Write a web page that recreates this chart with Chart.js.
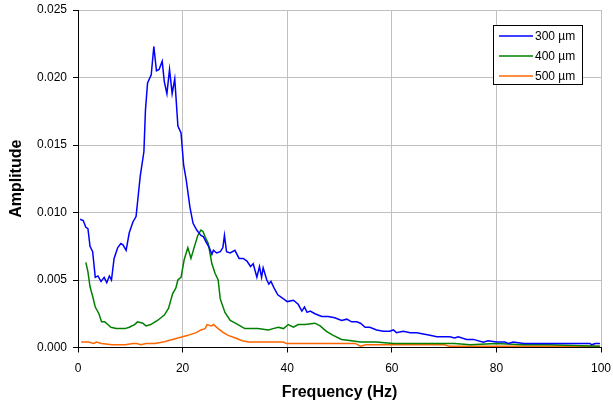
<!DOCTYPE html>
<html>
<head>
<meta charset="utf-8">
<script src="https://cdn.jsdelivr.net/npm/chart.js@4.4.0/dist/chart.umd.min.js"></script>
<style>
  html, body { margin: 0; padding: 0; background: #fff; }
  #wrap { width: 613px; height: 404px; }
</style>
</head>
<body>
<div id="wrap"><canvas id="spectrum" width="613" height="404"></canvas></div>
<script>
// amplitude spectra
const seriesLabels = ['300 µm', '400 µm', '500 µm']
const seriesColors = ['#0000FF', '#008000', '#FF6600']

const freq300 = [0.4, 1.0, 1.5, 1.9, 2.3, 2.8, 3.3, 3.8, 4.4, 5.0, 5.5, 6.0, 6.4, 6.9, 7.6, 8.2, 8.6, 9.2, 9.8, 10.5,
  11.1, 11.9, 12.6, 12.9, 13.3, 14.0, 14.5, 15.0, 15.5, 16.1, 16.5, 17.0, 17.5, 18.0, 18.5, 19.1, 19.7, 20.2, 20.7,
  21.4, 22.0, 22.7, 23.5, 24.0, 24.5, 25.1, 25.6, 25.9, 26.5, 27.2, 27.7, 28.0, 28.4, 29.1, 30.0, 30.8, 31.6, 32.3,
  33.0, 33.5, 34.2, 34.7, 35.1, 35.4, 36.1, 36.5, 36.9, 37.5, 38.2, 39.3, 40.0, 41.2, 42.1, 42.8, 43.3, 43.8, 44.4,
  45.3, 46.6, 47.8, 49.1, 50.4, 51.4, 52.3, 53.3, 54.0, 54.9, 55.8, 57.1, 58.4, 59.6, 60.3, 60.9, 62.2, 63.5, 64.8,
  66.0, 67.3, 68.6, 69.9, 71.1, 72.0, 72.7, 74.3, 75.6, 77.5, 78.4, 80.0, 81.6, 82.3, 83.2, 85.2, 88.3, 89.6, 91.2,
  94.7, 97.9, 98.2, 98.9, 99.8]
const amp300 = [0.0095, 0.0094, 0.0089, 0.0088, 0.0075, 0.0071, 0.0052, 0.0053, 0.0049, 0.0052, 0.0048, 0.0053, 0.0050,
  0.0066, 0.0074, 0.0077, 0.0076, 0.0072, 0.0085, 0.0093, 0.0097, 0.0127, 0.0145, 0.0176, 0.0196, 0.0202, 0.0223,
  0.0205, 0.0206, 0.0212, 0.0197, 0.0188, 0.0206, 0.0188, 0.0199, 0.0164, 0.0159, 0.0135, 0.0124, 0.0104, 0.0092,
  0.0087, 0.0083, 0.0082, 0.0078, 0.0074, 0.0069, 0.0072, 0.0070, 0.0071, 0.0074, 0.0083, 0.0071, 0.0070, 0.0072,
  0.0066, 0.0066, 0.0064, 0.0060, 0.0062, 0.0052, 0.0060, 0.0052, 0.0059, 0.0050, 0.0047, 0.0049, 0.0044, 0.0039,
  0.0036, 0.0034, 0.0035, 0.0032, 0.0027, 0.0030, 0.0026, 0.0027, 0.0025, 0.0023, 0.0023, 0.0022, 0.0020, 0.0021,
  0.0019, 0.0019, 0.0018, 0.0015, 0.0015, 0.0013, 0.0012, 0.0012, 0.0013, 0.0011, 0.0012, 0.0011, 0.0011, 0.0010,
  0.0009, 0.0008, 0.0008, 0.0008, 0.0007, 0.0008, 0.0006, 0.0006, 0.0004, 0.0005, 0.0004, 0.0004, 0.0003, 0.0004,
  0.0003, 0.0003, 0.0003, 0.0003, 0.0003, 0.0003, 0.0002, 0.0003, 0.0003]

const freq400 = [1.5, 1.9, 2.3, 2.8, 3.3, 4.0, 4.5, 5.1, 5.7, 6.3, 7.3, 8.2, 9.0, 9.8, 10.8, 11.4, 12.4, 13.0, 13.9,
  15.2, 16.5, 17.3, 18.1, 18.7, 19.1, 19.7, 20.3, 21.0, 21.6, 22.2, 22.9, 23.5, 23.9, 24.3, 24.9, 25.6, 26.2, 26.8,
  27.2, 28.1, 29.1, 30.1, 31.0, 31.9, 33.2, 34.4, 36.4, 37.3, 38.3, 39.3, 40.2, 41.2, 42.1, 43.4, 45.3, 46.3, 47.5,
  48.8, 50.4, 52.3, 54.0, 57.0, 60.3, 65.0, 70.0, 72.0, 75.0, 80.0, 85.0, 90.0, 99.8]
const amp400 = [0.0063, 0.0056, 0.0045, 0.0038, 0.0030, 0.0025, 0.0019, 0.0019, 0.0017, 0.0015, 0.0014, 0.0014, 0.0014,
  0.0015, 0.0017, 0.0019, 0.0018, 0.0016, 0.0017, 0.0020, 0.0024, 0.0029, 0.0040, 0.0044, 0.0050, 0.0052, 0.0065,
  0.0074, 0.0066, 0.0074, 0.0083, 0.0087, 0.0086, 0.0082, 0.0077, 0.0062, 0.0055, 0.0050, 0.0036, 0.0026, 0.0020,
  0.0018, 0.0016, 0.0014, 0.0014, 0.0014, 0.0013, 0.0014, 0.0015, 0.0014, 0.0017, 0.0015, 0.0017, 0.0017, 0.0018,
  0.0016, 0.0012, 0.0009, 0.0006, 0.0005, 0.0004, 0.0004, 0.0003, 0.0003, 0.0003, 0.0003, 0.0002, 0.0003, 0.0002,
  0.0002, 0.0001]

const freq500 = [0.6, 2.0, 3.0, 3.5, 4.5, 6.5, 9.0, 10.5, 11.2, 12.0, 13.0, 14.7, 16.3, 17.2, 19.1, 20.0, 21.0, 22.6,
  23.5, 24.3, 24.7, 25.5, 25.9, 26.2, 26.8, 27.8, 28.7, 30.1, 31.4, 32.6, 36.0, 39.2, 39.9, 53.0, 54.0, 55.0, 60.0,
  70.0, 71.0, 80.0, 99.8]
const amp500 = [0.0004, 0.0004, 0.0003, 0.0004, 0.0003, 0.0002, 0.0002, 0.0003, 0.0003, 0.0002, 0.0003, 0.0003, 0.0004,
  0.0005, 0.0007, 0.0008, 0.0009, 0.0011, 0.0013, 0.0014, 0.0017, 0.0016, 0.0017, 0.0016, 0.0014, 0.0011, 0.0009,
  0.0007, 0.0005, 0.0004, 0.0004, 0.0004, 0.0003, 0.0003, 0.0001, 0.0002, 0.0002, 0.0002, 0.0001, 0.0001, 0.0001]

const xTicks = [0, 20, 40, 60, 80, 100]
const yTicks = [0, 0.005, 0.010, 0.015, 0.020, 0.025]
const xTitle = 'Frequency (Hz)'
const yTitle = 'Amplitude'

const FONT = 'Liberation Sans, Arial, sans-serif'
const pts = (xs, ys) => xs.map((f, i) => ({ x: f, y: ys[i] }))

// boxed legend inside the plot, upper right
const boxLegend = {
  id: 'boxLegend',
  afterDatasetsDraw(chart) {
    const ctx = chart.ctx
    const left = 493.5, top = 25.5, w = 89, h = 59
    ctx.save()
    ctx.fillStyle = '#fff'
    ctx.fillRect(left, top, w, h)
    ctx.strokeStyle = '#000'
    ctx.lineWidth = 1
    ctx.strokeRect(left, top, w, h)
    ctx.font = '12px ' + FONT
    ctx.textBaseline = 'middle'
    chart.data.datasets.forEach((ds, i) => {
      const y = 36 + i * 20
      ctx.strokeStyle = ds.borderColor
      ctx.lineWidth = 1.5
      ctx.beginPath()
      ctx.moveTo(499, y)
      ctx.lineTo(533, y)
      ctx.stroke()
      ctx.fillStyle = '#000'
      ctx.fillText(ds.label, 535, y + 0.5)
    })
    ctx.restore()
  }
}

// axis titles, placed like the original
const axisTitles = {
  id: 'axisTitles',
  afterDraw(chart) {
    const { ctx, chartArea: a } = chart
    ctx.save()
    ctx.fillStyle = '#000'
    ctx.font = 'bold 16px ' + FONT
    ctx.textAlign = 'center'
    ctx.textBaseline = 'middle'
    ctx.fillText(xTitle, (a.left + a.right) / 2, 393)
    ctx.translate(17, (a.top + a.bottom) / 2)
    ctx.rotate(-Math.PI / 2)
    ctx.fillText(yTitle, 0, 0)
    ctx.restore()
  }
}

const datasets = [pts(freq300, amp300), pts(freq400, amp400), pts(freq500, amp500)].map((d, i) => ({
  label: seriesLabels[i],
  data: d,
  borderColor: seriesColors[i],
  borderWidth: 1.5,
  pointRadius: 0,
  fill: false,
  tension: 0,
}))

new Chart(document.getElementById('spectrum'), {
  type: 'line',
  data: { datasets },
  plugins: [boxLegend, axisTitles],
  options: {
    responsive: false,
    animation: false,
    layout: { padding: { top: 10, right: 12, left: 0, bottom: 0 } },
    plugins: { legend: { display: false }, tooltip: { enabled: false } },
    scales: {
      x: {
        type: 'linear',
        min: 0, max: 100,
        afterBuildTicks: s => { s.ticks = xTicks.map(v => ({ value: v })) },
        afterFit: s => { s.height = 56.5; s.paddingLeft = 0; s.paddingRight = 0 },
        ticks: { color: '#000', font: { family: FONT, size: 12 }, padding: 9, maxRotation: 0 },
        grid: { color: '#c0c0c0', lineWidth: 1, tickColor: '#000', tickLength: 5 },
        border: { color: '#000', width: 1 },
      },
      y: {
        min: 0, max: 0.025,
        afterBuildTicks: s => { s.ticks = yTicks.map(v => ({ value: v })) },
        afterFit: s => { s.width = 78; s.paddingTop = 0; s.paddingBottom = 0 },
        ticks: { color: '#000', font: { family: FONT, size: 12 }, padding: 6, callback: v => v.toFixed(3) },
        grid: { color: '#c0c0c0', lineWidth: 1, tickColor: '#000', tickLength: 5 },
        border: { color: '#000', width: 1 },
      },
    },
  },
})
</script>
</body>
</html>
